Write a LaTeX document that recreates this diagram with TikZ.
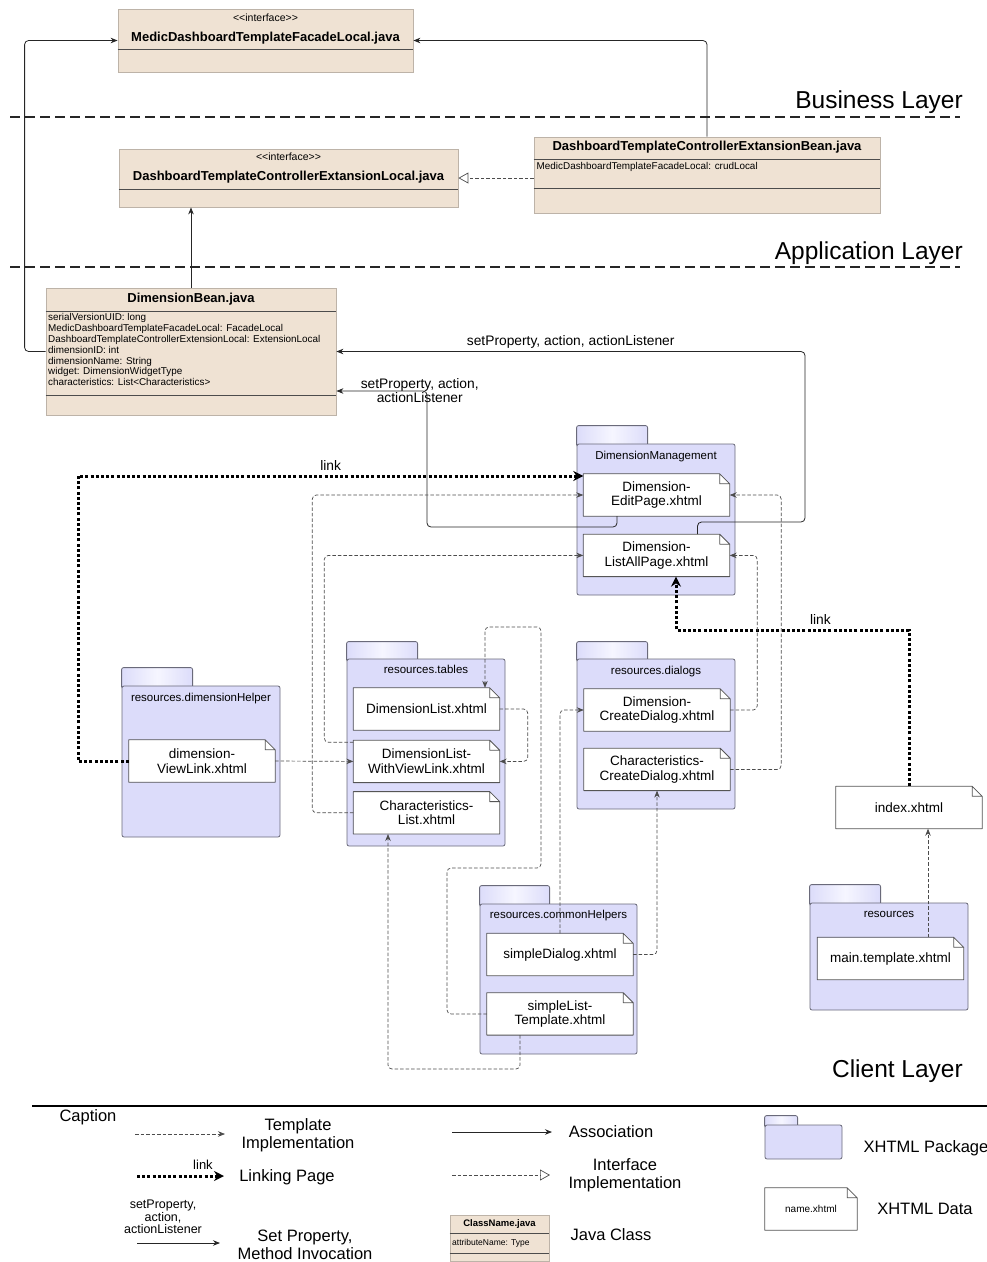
\documentclass[tikz,border=0pt]{standalone}
\usepackage{fontspec}
\setmainfont{Liberation Sans}
\usepackage{xcolor}
\usetikzlibrary{arrows.meta,positioning,calc}

\definecolor{classfill}{HTML}{EFE2D3}
\definecolor{classline}{HTML}{BDB3A8}
\definecolor{pkgfill}{HTML}{DCDCFA}
\definecolor{pkgline}{HTML}{6A6A7A}
\definecolor{tablight}{HTML}{F6F6FF}
\definecolor{fileline}{HTML}{555555}

\pgfdeclarelayer{background}
\pgfsetlayers{background,main}

\tikzset{
  javaclass/.style={draw=classline, fill=classfill, line width=0.8pt, inner sep=0pt},
  sepline/.style={draw=black!70, line width=0.9pt},
  stereo/.style={font=\fontsize{10.5}{12}\selectfont, inner sep=1pt},
  classname/.style={font=\bfseries\fontsize{13}{15}\selectfont, inner sep=1pt},
  attrs/.style={font=\fontsize{9.9}{10.8}\selectfont, align=left, inner sep=1pt},
  pkgbase/.style={draw=pkgline, fill=pkgfill, line width=0.8pt, rounded corners=2pt, inner sep=0pt},
  pkg/.style={pkgbase, minimum width=158pt},
  tabshape/.style={draw=pkgline, line width=0.8pt, rounded corners=2pt,
    left color=pkgfill, right color=pkgfill, middle color=tablight},
  pkgtitle/.style={font=\fontsize{11.5}{13}\selectfont, inner sep=0pt, anchor=base},
  xfile/.style={fill=white, inner sep=1pt, align=center, minimum width=146pt, minimum height=42pt,
    font=\fontsize{13.5}{14.5}\selectfont},
  filebox/.style={draw=fileline, line width=0.8pt, line join=round},
  assoc/.style={draw=black!85, line width=0.8pt, rounded corners=4pt, -{Stealth[length=7pt,width=5.5pt]}},
  tmpl/.style={draw=black!70, line width=0.7pt, dash pattern=on 3.5pt off 2pt, rounded corners=4pt,
    -{Stealth[length=7pt,width=5.5pt]}},
  realize/.style={draw=black!70, line width=0.7pt, dash pattern=on 3.5pt off 2pt,
    -{Triangle[open,length=10pt,width=11pt]}},
  linkarrow/.style={draw=black, line width=3pt, dash pattern=on 3pt off 2.2pt,
    -{Stealth[length=10pt,width=10pt]}},
  layerline/.style={draw=black!85, line width=2pt, dash pattern=on 10pt off 5pt},
  layertitle/.style={font=\fontsize{24.5}{27}\selectfont, anchor=base east, inner sep=0pt},
  lbl/.style={font=\fontsize{13.8}{14}\selectfont, inner sep=1pt, align=center},
  legendtext/.style={font=\fontsize{16.5}{18}\selectfont, align=center, inner sep=1pt},
}

% tab of a package: node, tab width, tab height
\newcommand{\pkgtab}[3]{%
  \begin{pgfonlayer}{background}
    \path[tabshape] ([yshift=-3pt]#1.north west) -- ++(0,#3+3pt) -- ++(#2,0) -- ++(0,-#3-3pt) -- cycle;
  \end{pgfonlayer}}
% dog-eared frame of an xhtml file: [corner colour] node
\newcommand{\fileframe}[2][pkgfill]{%
  \fill[#1] ([xshift=-10pt,yshift=0.5pt]#2.north east) -- ([xshift=0.5pt,yshift=0.5pt]#2.north east)
    -- ([xshift=0.5pt,yshift=-10pt]#2.north east) -- cycle;
  \draw[filebox] (#2.north west) -- ([xshift=-10pt]#2.north east) -- ([yshift=-10pt]#2.north east)
    -- (#2.south east) -- (#2.south west) -- cycle
    ([xshift=-10pt]#2.north east) |- ([yshift=-10pt]#2.north east);}

\begin{document}
\begin{tikzpicture}[x=1pt, y=-1pt]
\useasboundingbox (0,0) rectangle (987,1262);

% Layers
\draw[layerline] (10,117) -- (960,117);
\draw[layerline] (10,267) -- (960,267);
\node[layertitle] (business) at (963,108) {Business Layer};
\node[layertitle] (application) at (963,259) {Application Layer};
\node[layertitle] (client) at (963,1077) {Client Layer};

% Java classes
\node[javaclass, minimum width=295pt, minimum height=63pt] (facade) at (265.5,40.5) {};
\node[stereo] (facadestereo) at (265.5,18) {<{}<interface>{}>};
\node[classname] (facadename) at (265.5,38) {MedicDashboardTemplateFacadeLocal.java};
\draw[sepline] (facade.west |- 0,49) -- (facade.east |- 0,49);

\node[javaclass, minimum width=339pt, minimum height=58pt] (extlocal) at (288.5,178) {};
\node[stereo] (extlocalstereo) at (288.5,157) {<{}<interface>{}>};
\node[classname] (extlocalname) at (288.5,177) {DashboardTemplateControllerExtansionLocal.java};
\draw[sepline] (extlocal.west |- 0,189) -- (extlocal.east |- 0,189);

\node[javaclass, minimum width=346pt, minimum height=76pt] (extbean) at (707,175) {};
\node[classname] (extbeanname) at (707,147.5) {DashboardTemplateControllerExtansionBean.java};
\draw[sepline] (extbean.west |- 0,159) -- (extbean.east |- 0,159);
\node[attrs, anchor=west] (extbeanattr) at (535.5,167) {MedicDashboardTemplateFacadeLocal: crudLocal};
\draw[sepline] (extbean.west |- 0,188) -- (extbean.east |- 0,188);

\node[javaclass, minimum width=290pt, minimum height=127pt] (dimbean) at (191,351.5) {};
\node[classname] (dimbeanname) at (191,299) {DimensionBean.java};
\draw[sepline] (dimbean.west |- 0,311) -- (dimbean.east |- 0,311);
\node[attrs, anchor=north west] (dimbeanattr) at (47,312.5) {serialVersionUID: long\\
  MedicDashboardTemplateFacadeLocal: FacadeLocal\\
  DashboardTemplateControllerExtensionLocal: ExtensionLocal\\
  dimensionID: int\\
  dimensionName: String\\
  widget: DimensionWidgetType\\
  characteristics: List<Characteristics>};
\draw[sepline] (dimbean.west |- 0,395) -- (dimbean.east |- 0,395);

% Packages
\node[pkg, minimum height=151pt] (dmgmt) at (656,519.5) {};
\pkgtab{dmgmt}{71pt}{18pt}
\node[pkgtitle] (dmgmttitle) at ([yshift=-16pt]dmgmt.north) {DimensionManagement};
\node[xfile] (edit) at (656.5,495) {Dimension-\\EditPage.xhtml};
\node[xfile, below=18pt of edit] (listall) {Dimension-\\ListAllPage.xhtml};
\fileframe{edit}
\fileframe{listall}

\node[pkg, minimum height=187pt] (tables) at (426,752.5) {};
\pkgtab{tables}{71pt}{17pt}
\node[pkgtitle] (tablestitle) at ([yshift=-15pt]tables.north) {resources.tables};
\node[xfile] (dimlist) at (426.5,709) {DimensionList.xhtml};
\node[xfile, below=10pt of dimlist] (withview) {DimensionList-\\WithViewLink.xhtml};
\node[xfile, below=9pt of withview] (charlist) {Characteristics-\\List.xhtml};
\fileframe{dimlist}
\fileframe{withview}
\fileframe{charlist}

\node[pkg, minimum height=151pt] (dimhelper) at (201,761.5) {};
\pkgtab{dimhelper}{71pt}{18pt}
\node[pkgtitle] (dimhelpertitle) at ([yshift=-16pt]dimhelper.north) {resources.dimensionHelper};
\node[xfile] (viewlink) at (202,761) {dimension-\\ViewLink.xhtml};
\fileframe{viewlink}

\node[pkg, minimum height=150pt] (dialogs) at (656,734) {};
\pkgtab{dialogs}{71pt}{17pt}
\node[pkgtitle] (dialogstitle) at ([yshift=-16pt]dialogs.north) {resources.dialogs};
\node[xfile] (dimcreate) at (657,710) {Dimension-\\CreateDialog.xhtml};
\node[xfile, below=17pt of dimcreate] (charcreate) {Characteristics-\\CreateDialog.xhtml};
\fileframe{dimcreate}
\fileframe{charcreate}

\node[pkg, minimum width=157pt, minimum height=150pt] (common) at (558.5,979) {};
\pkgtab{common}{70pt}{18pt}
\node[pkgtitle] (commontitle) at ([yshift=-15pt]common.north) {resources.commonHelpers};
\node[xfile] (simpledlg) at (560,954.5) {simpleDialog.xhtml};
\node[xfile, below=17pt of simpledlg] (simplelist) {simpleList-\\Template.xhtml};
\fileframe{simpledlg}
\fileframe{simplelist}

\node[xfile] (index) at (909,807.5) {index.xhtml};
\fileframe[white]{index}

\node[pkg, minimum height=107pt] (resources) at (889,956.5) {};
\pkgtab{resources}{71pt}{18pt}
\node[pkgtitle] (resourcestitle) at ([yshift=-15pt]resources.north) {resources};
\node[xfile] (maintpl) at (890.5,958.5) {main.template.xhtml};
\fileframe{maintpl}

% Associations
\draw[assoc] (dimbean.west) -- ++(-21,0) |- (facade.west);
\draw[assoc] (extbean.north) |- (facade.east);
\draw[realize] (extbean.west |- extlocal.east) -- (extlocal.east);
\draw[assoc] (dimbean.north) -- (dimbean.north |- extlocal.south);
\draw[assoc] ([xshift=41pt]listall.north) |- (805,522)
  |- node[lbl, pos=0.75, above, yshift=2pt] {setProperty, action, actionListener} (dimbean.east);
\draw[assoc] ([xshift=-39.5pt]edit.south) |- (427,527)
  |- node[lbl, pos=0.54] {setProperty, action,\\actionListener} ([yshift=-39.5pt]dimbean.east);

% Links
\draw[linkarrow] (viewlink.west) -| (78,476) -- node[lbl, above, yshift=3pt] {link} (edit.west |- 0,476);
\draw[linkarrow] (index.north) |- node[lbl, pos=0.69, above, yshift=3pt] {link} (676,630)
  -- ([xshift=19.5pt]listall.south);

% Template implementations
\draw[tmpl] (charlist.west) -- ++(-41,0) |- (edit.west);
\draw[tmpl] ([yshift=-2pt]withview.north west) -- ++(-29,0) |- (listall.west);
\draw[tmpl] (viewlink.east) -- (withview.west);
\draw[tmpl] (dimlist.east) -- ++(28,0) |- (withview.east);
\draw[tmpl] (simplelist.west) -| (447,868) -| (541,627) -| ([xshift=58.5pt]dimlist.north);
\draw[tmpl] ([xshift=-40pt]simplelist.south) |- (388,1069) -- ([xshift=-38.5pt]charlist.south);
\draw[tmpl] (simpledlg.north) |- (dimcreate.west);
\draw[tmpl] (simpledlg.east) -| (charcreate.south);
\draw[tmpl] (dimcreate.east) -- ++(27,0) |- (listall.east);
\draw[tmpl] (charcreate.east) -- ++(51,0) |- (edit.east);
\draw[tmpl] ([xshift=37.5pt]maintpl.north) -- ([xshift=37.5pt]maintpl.north |- index.south);

% Caption
\draw[line width=2pt] (32,1106) -- (987,1106);
\node[legendtext] (caption) at (88,1117) {Caption};

\coordinate (lgtmplA) at (135,1134);
\coordinate (lgtmplB) at (225,1134);
\draw[tmpl] (lgtmplA) -- (lgtmplB);
\node[legendtext] (lgtmpl) at (298,1135) {Template\\Implementation};

\coordinate (lglinkA) at (137,1176);
\coordinate (lglinkB) at (224,1176);
\draw[linkarrow] (lglinkA) -- (lglinkB);
\node[lbl, font=\fontsize{13}{14}\selectfont] (lglinklbl) at (203,1165) {link};
\node[legendtext] (lglink) at (287,1177) {Linking Page};

\node[lbl, font=\fontsize{12.5}{12.5}\selectfont] (lgsetlbl) at (163,1217) {setProperty,\\action,\\actionListener};
\coordinate (lgsetA) at (137,1243);
\coordinate (lgsetB) at (220,1243);
\draw[assoc] (lgsetA) -- (lgsetB);
\node[legendtext] (lgset) at (305,1245) {Set Property,\\Method Invocation};

\coordinate (lgassocA) at (452,1132);
\coordinate (lgassocB) at (552,1132);
\draw[assoc] (lgassocA) -- (lgassocB);
\node[legendtext] (lgassoc) at (611,1132) {Association};

\coordinate (lgrealA) at (452,1175);
\coordinate (lgrealB) at (550,1175);
\draw[realize] (lgrealA) -- (lgrealB);
\node[legendtext] (lgreal) at (625,1175) {Interface\\Implementation};

\node[javaclass, minimum width=99pt, minimum height=46pt] (lgclass) at (499.5,1238) {};
\node[classname, font=\bfseries\fontsize{9.5}{11}\selectfont] (lgclassname) at (499.5,1224) {ClassName.java};
\draw[sepline] (lgclass.west |- 0,1233) -- (lgclass.east |- 0,1233);
\node[attrs, anchor=west, font=\fontsize{8.5}{10}\selectfont] (lgclassattr) at (451,1243) {attributeName: Type};
\draw[sepline] (lgclass.west |- 0,1253) -- (lgclass.east |- 0,1253);
\node[legendtext] (lgjava) at (611,1235) {Java Class};

\node[pkgbase, minimum width=77pt, minimum height=34pt] (lgpkg) at (803.5,1142) {};
\pkgtab{lgpkg}{33pt}{9pt}
\node[legendtext] (lgpkglbl) at (926,1148) {XHTML Package};

\node[xfile, minimum width=92pt, font=\fontsize{10}{12}\selectfont] (lgfile) at (811,1209) {name.xhtml};
\fileframe[white]{lgfile}
\node[legendtext] (lgfilelbl) at (925,1209) {XHTML Data};

\end{tikzpicture}
\end{document}
